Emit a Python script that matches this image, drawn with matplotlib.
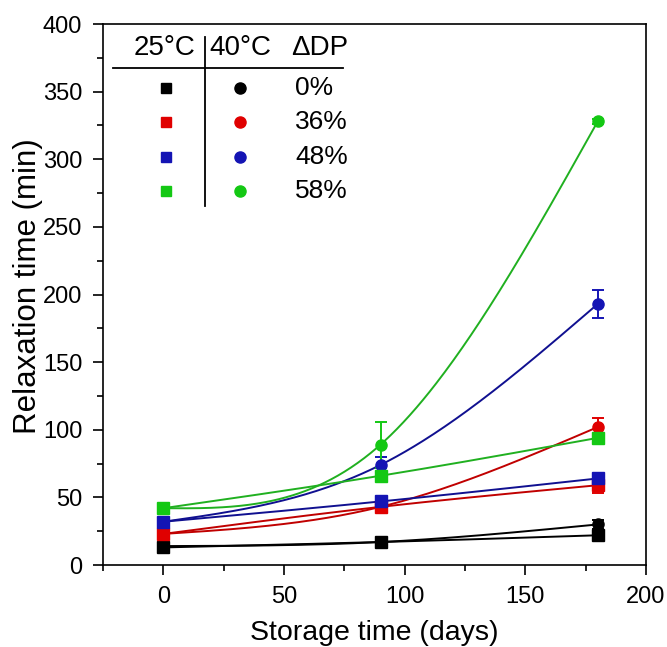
import matplotlib
matplotlib.use('Agg')
import matplotlib.pyplot as plt
from matplotlib.ticker import MultipleLocator
import numpy as np

plt.rcParams['font.family'] = ['Liberation Sans', 'DejaVu Sans']

# storage time (days)
days = [0, 90, 180]
dp_labels = ['0%', '36%', '48%', '58%']
colors = ['#000000', '#e00000', '#1414b4', '#14c814']
line_colors = ['#000000', '#c00000', '#101090', '#20b020']

# relaxation time (min), 25 °C (squares)
t25 = [[13, 17, 22],
       [23, 43, 59],
       [32, 47, 64],
       [42, 66, 94]]
e25 = [[2, 2, 2],
       [2, 2, 6],
       [2, 2, 3],
       [2, 2, 3]]

# relaxation time (min), 40 °C (circles)
t40 = [[14, 17, 30],
       [23, 43, 102],
       [32, 74, 193],
       [42, 89, 328]]
e40 = [[2, 3, 3],
       [2, 2, 7],
       [2, 6, 10],
       [2, 17, 2]]


def natural_spline(x, y, n=200):
    # smooth connecting line through the measured points
    x = np.asarray(x, float)
    y = np.asarray(y, float)
    k = len(x)
    h = np.diff(x)
    A = np.zeros((k, k))
    b = np.zeros(k)
    A[0, 0] = A[-1, -1] = 1
    for i in range(1, k - 1):
        A[i, i - 1] = h[i - 1]
        A[i, i] = 2 * (h[i - 1] + h[i])
        A[i, i + 1] = h[i]
        b[i] = 6 * ((y[i + 1] - y[i]) / h[i] - (y[i] - y[i - 1]) / h[i - 1])
    M = np.linalg.solve(A, b)
    xs = np.linspace(x[0], x[-1], n)
    ys = np.empty_like(xs)
    for j, xv in enumerate(xs):
        i = min(np.searchsorted(x, xv, side='right') - 1, k - 2)
        t = xv - x[i]
        hi = h[i]
        a = (x[i + 1] - xv) / hi
        c = t / hi
        ys[j] = (a * y[i] + c * y[i + 1]
                 + ((a ** 3 - a) * M[i] + (c ** 3 - c) * M[i + 1]) * hi ** 2 / 6)
    return xs, ys


fig = plt.figure(figsize=(6.67, 6.47), dpi=100)
ax = fig.add_axes([0.1544, 0.1267, 0.8141, 0.8362])

for i in range(4):
    xs, ys = natural_spline(days, t25[i])
    ax.plot(xs, ys, color=line_colors[i], lw=1.4, zorder=2)
    xs, ys = natural_spline(days, t40[i])
    ax.plot(xs, ys, color=line_colors[i], lw=1.4, zorder=2)
    ax.errorbar(days, t25[i], yerr=e25[i], fmt='s', color=colors[i], ms=8,
                capsize=4, elinewidth=1.4, capthick=1.4, zorder=3)
    ax.errorbar(days, t40[i], yerr=e40[i], fmt='o', color=colors[i], ms=8,
                capsize=4, elinewidth=1.4, capthick=1.4, zorder=3)

ax.set_xlim(-25, 200)
ax.set_ylim(0, 400)
ax.xaxis.set_major_locator(MultipleLocator(50))
ax.xaxis.set_minor_locator(MultipleLocator(25))
ax.yaxis.set_major_locator(MultipleLocator(50))
ax.yaxis.set_minor_locator(MultipleLocator(25))
ax.tick_params(which='both', direction='out', width=1.2, labelsize=17)
ax.tick_params(which='major', length=7, pad=8)
ax.tick_params(which='minor', length=4)
for s in ax.spines.values():
    s.set_linewidth(1.2)
ax.set_xlabel('Storage time (days)', fontsize=20.5)
ax.set_ylabel('Relaxation time (min)', fontsize=22.5)
ax.xaxis.set_label_coords(0.5, -0.101)
ax.yaxis.set_label_coords(-0.110, 0.516)


# legend drawn as a small table, positions in axes fraction
def fx(px):
    return (px - 103) / 543.0


def fy(py):
    return (565 - py) / 541.0


tr = ax.transAxes
ax.text(fx(165), fy(48), '25°C', transform=tr, ha='center', va='center', fontsize=20)
ax.text(fx(240), fy(48), '40°C', transform=tr, ha='center', va='center', fontsize=20)
ax.text(fx(320), fy(48), 'ΔDP', transform=tr, ha='center', va='center', fontsize=20)
ax.plot([fx(113), fx(343)], [fy(68), fy(68)], color='black', lw=1.3, transform=tr, clip_on=False)
ax.plot([fx(205), fx(205)], [fy(37), fy(206)], color='black', lw=1.3, transform=tr, clip_on=False)
rows = [88, 122, 157, 191]
for i in range(4):
    ax.plot(fx(166), fy(rows[i]), 's', color=colors[i], ms=7, transform=tr)
    ax.plot(fx(240), fy(rows[i]), 'o', color=colors[i], ms=8, transform=tr)
    ax.text(fx(295), fy(rows[i]), dp_labels[i], transform=tr, ha='left', va='center', fontsize=19)

fig.savefig('out.png', dpi=100)
